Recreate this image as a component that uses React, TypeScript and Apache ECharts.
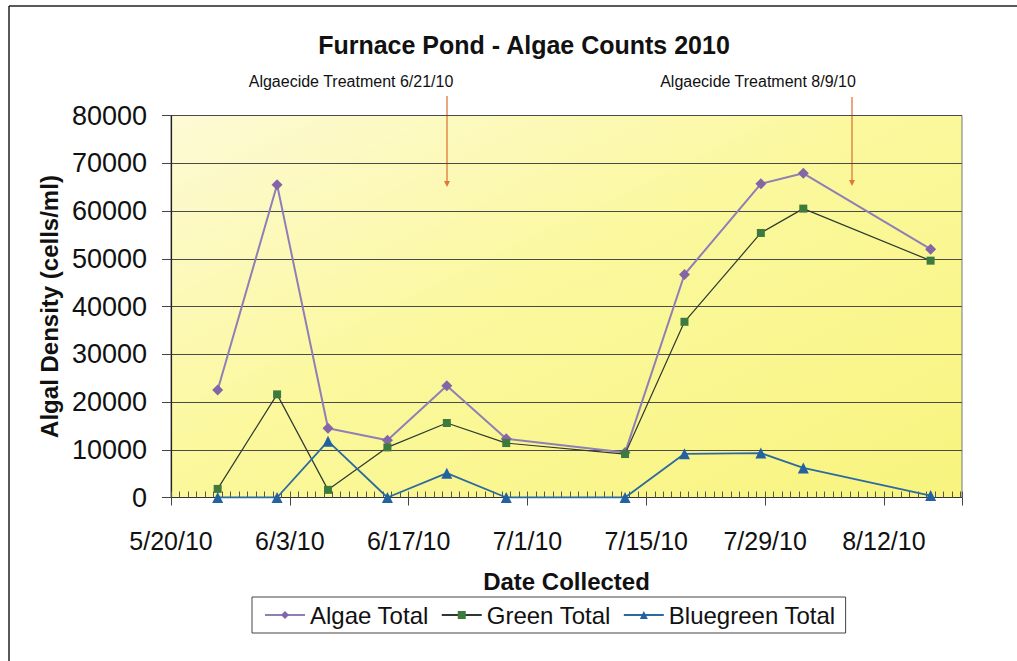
import React, { useEffect, useRef } from "react";
import * as echarts from "echarts";

const sampleDates = ["5/25/10", "6/1/10", "6/7/10", "6/14/10", "6/21/10", "6/28/10", "7/12/10", "7/19/10", "7/28/10", "8/2/10", "8/17/10"];
const algaeTotal = [22500, 65500, 14500, 12000, 23400, 12300, 9400, 46700, 65700, 67900, 52000];
const greenTotal = [1800, 21600, 1600, 10500, 15600, 11400, 9100, 36800, 55400, 60500, 49600];
const bluegreenTotal = [0, 0, 11800, 0, 5100, 0, 0, 9150, 9300, 6200, 400];
const xTickLabels = ["5/20/10", "6/3/10", "6/17/10", "7/1/10", "7/15/10", "7/29/10", "8/12/10"];
const yTicks = [0, 10000, 20000, 30000, 40000, 50000, 60000, 70000, 80000];

const START = new Date(2010, 4, 20).getTime();
const DAY = 86400000;
const toDay = (s: string) => {
  const [m, d, y] = s.split("/").map(Number);
  return Math.round((new Date(2000 + y, m - 1, d).getTime() - START) / DAY) + 0.5;
};
const pts = (vals: number[]) => vals.map((v, i) => [toDay(sampleDates[i]), v]);

const FONT = "'Liberation Sans', Arial, sans-serif";

export default function App() {
  const ref = useRef<HTMLDivElement>(null);
  useEffect(() => {
    if (!ref.current) return;
    const chart = echarts.init(ref.current, undefined, { renderer: "svg" });
    const arrow = (x: number, y1: number, y2: number) => ({
      type: "group",
      children: [
        { type: "line", shape: { x1: x, y1, x2: x, y2: y2 - 4 }, style: { stroke: "#e0783a", lineWidth: 1.3 } },
        { type: "polygon", shape: { points: [[x - 3, y2 - 6], [x + 3, y2 - 6], [x, y2]] }, style: { fill: "#e0783a" } },
      ],
    });
    chart.setOption({
      animation: false,
      backgroundColor: "#ffffff",
      textStyle: { fontFamily: FONT },
      title: {
        text: "Furnace Pond - Algae Counts 2010",
        left: 519,
        textAlign: "center",
        top: 27,
        textStyle: { fontFamily: FONT, fontSize: 25, fontWeight: "bold", color: "#111" },
      },
      graphic: [
        { type: "line", shape: { x1: 9, y1: 6, x2: 9, y2: 661 }, style: { stroke: "#222", lineWidth: 1.5 } },
        { type: "line", shape: { x1: 9, y1: 6, x2: 1017, y2: 6 }, style: { stroke: "#222", lineWidth: 1.5 } },
        { type: "text", x: 351, y: 81, style: { text: "Algaecide Treatment 6/21/10", font: "16px " + FONT, fill: "#111", textAlign: "center", textVerticalAlign: "middle" } },
        { type: "text", x: 758, y: 81, style: { text: "Algaecide Treatment 8/9/10", font: "16px " + FONT, fill: "#111", textAlign: "center", textVerticalAlign: "middle" } },
        arrow(447, 96, 187),
        arrow(852, 97, 186),
      ],
      grid: {
        left: 171,
        right: 55,
        top: 115.5,
        bottom: 163.5,
        show: true,
        borderColor: "#777",
        borderWidth: 1,
        backgroundColor: {
          type: "linear", x: 0, y: 0, x2: 1, y2: 1,
          colorStops: [
            { offset: 0, color: "#fdfad6" },
            { offset: 0.45, color: "#fbf89e" },
            { offset: 1, color: "#f8f47e" },
          ],
        },
      },
      legend: {
        left: 252,
        top: 597,
        padding: [6, 10, 6, 12],
        borderColor: "#444",
        borderWidth: 1,
        itemWidth: 40,
        itemHeight: 10,
        itemGap: 12,
        textStyle: { fontFamily: FONT, fontSize: 24, color: "#111", padding: [0, 0, 0, 0] },
        data: ["Algae Total", "Green Total", "Bluegreen Total"],
      },
      xAxis: [
        {
          type: "value",
          min: 0,
          max: 93.2,
          interval: 14,
          name: "Date Collected",
          nameLocation: "middle",
          nameGap: 72,
          nameTextStyle: { fontFamily: FONT, fontSize: 24, fontWeight: "bold", color: "#111", verticalAlign: "top" },
          axisLine: { show: true, lineStyle: { color: "#333", width: 1.2 } },
          axisTick: { show: true, length: 8, lineStyle: { color: "#444" } },
          axisLabel: {
            fontFamily: FONT,
            fontSize: 25,
            color: "#111",
            margin: 31,
            formatter: (v: number) => {
              const k = Math.round(v);
              return k % 14 === 0 && Math.abs(v - k) < 1e-6 ? xTickLabels[k / 14] ?? "" : "";
            },
          },
          splitLine: { show: false },
        },
        {
          type: "value",
          min: 0,
          max: 93.2,
          interval: 1,
          position: "bottom",
          axisLine: { show: false },
          axisTick: { show: true, inside: true, length: 6, lineStyle: { color: "#555" } },
          axisLabel: { show: false },
          splitLine: { show: false },
        },
      ],
      yAxis: {
        type: "value",
        min: yTicks[0],
        max: yTicks[yTicks.length - 1],
        interval: 10000,
        name: "Algal Density (cells/ml)",
        nameLocation: "middle",
        nameGap: 96,
        nameTextStyle: { fontFamily: FONT, fontSize: 24, fontWeight: "bold", color: "#111" },
        axisLine: { show: true, lineStyle: { color: "#222", width: 1.2 } },
        axisTick: { show: true, length: 9, lineStyle: { color: "#444" } },
        axisLabel: { fontFamily: FONT, fontSize: 27, color: "#111", margin: 24, formatter: (v: number) => String(v) },
        splitLine: { show: true, lineStyle: { color: "#4a4a4a", width: 1 } },
      },
      series: [
        {
          name: "Algae Total",
          type: "line",
          data: pts(algaeTotal),
          symbol: "diamond",
          symbolSize: 11,
          lineStyle: { color: "#8f7fb6", width: 2 },
          itemStyle: { color: "#8466a6" },
          z: 3,
        },
        {
          name: "Green Total",
          type: "line",
          data: pts(greenTotal),
          symbol: "rect",
          symbolSize: 8,
          lineStyle: { color: "#2e3a30", width: 1.2 },
          itemStyle: { color: "#3d7a3d" },
          z: 4,
        },
        {
          name: "Bluegreen Total",
          type: "line",
          data: pts(bluegreenTotal),
          symbol: "triangle",
          symbolSize: 11,
          lineStyle: { color: "#2d6aa0", width: 1.8 },
          itemStyle: { color: "#2362a0" },
          z: 5,
        },
      ],
    });
    return () => chart.dispose();
  }, []);
  return <div ref={ref} style={{ position: "fixed", left: 0, top: 0, width: 1017, height: 661 }} />;
}
